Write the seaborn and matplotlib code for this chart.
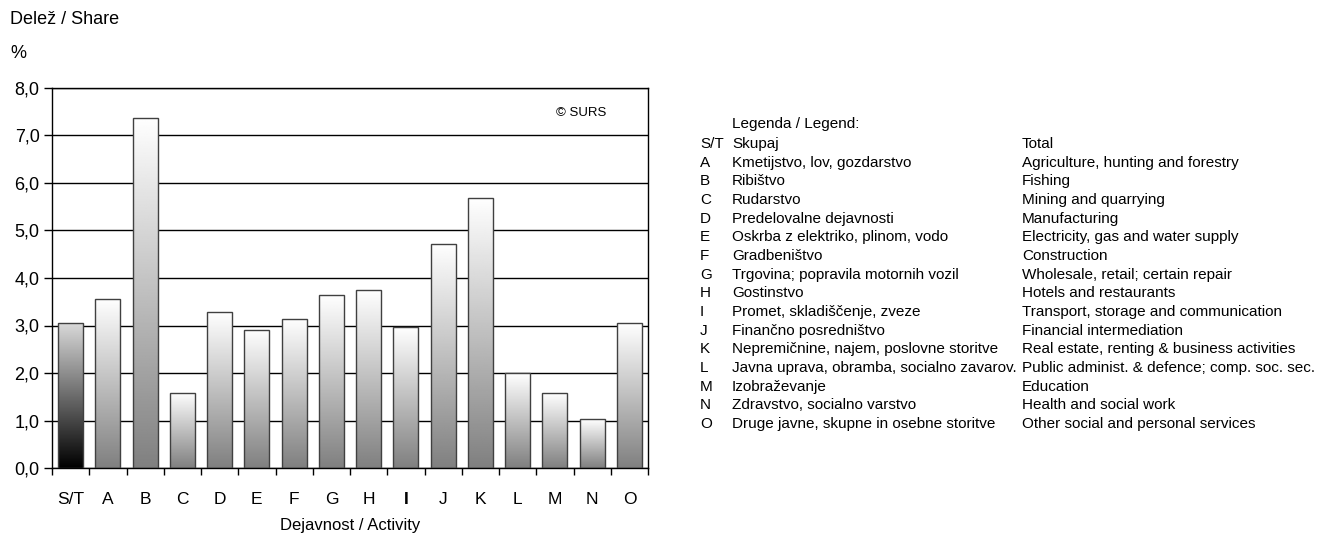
import matplotlib
matplotlib.use('Agg')
import matplotlib.pyplot as plt
import seaborn as sns
import numpy as np
from matplotlib.ticker import FixedLocator, FuncFormatter

# Data
codes = ['S/T', 'A', 'B', 'C', 'D', 'E', 'F', 'G', 'H', 'I', 'J', 'K', 'L', 'M', 'N', 'O']
share = [3.05, 3.56, 7.37, 1.58, 3.28, 2.91, 3.14, 3.64, 3.75, 2.96, 4.72, 5.68, 1.99, 1.57, 1.03, 3.05]

names_sl = ['Skupaj', 'Kmetijstvo, lov, gozdarstvo', 'Ribištvo', 'Rudarstvo',
            'Predelovalne dejavnosti', 'Oskrba z elektriko, plinom, vodo', 'Gradbeništvo',
            'Trgovina; popravila motornih vozil', 'Gostinstvo', 'Promet, skladiščenje, zveze',
            'Finančno posredništvo', 'Nepremičnine, najem, poslovne storitve',
            'Javna uprava, obramba, socialno zavarov.', 'Izobraževanje',
            'Zdravstvo, socialno varstvo', 'Druge javne, skupne in osebne storitve']
names_en = ['Total', 'Agriculture, hunting and forestry', 'Fishing', 'Mining and quarrying',
            'Manufacturing', 'Electricity, gas and water supply', 'Construction',
            'Wholesale, retail; certain repair', 'Hotels and restaurants',
            'Transport, storage and communication', 'Financial intermediation',
            'Real estate, renting & business activities',
            'Public administ. & defence; comp. soc. sec.', 'Education',
            'Health and social work', 'Other social and personal services']

sns.set_style('white')
plt.rcParams['font.family'] = ['Liberation Sans', 'DejaVu Sans']
plt.rcParams['text.color'] = 'black'
plt.rcParams['axes.labelcolor'] = 'black'
plt.rcParams['xtick.color'] = 'black'
plt.rcParams['ytick.color'] = 'black'

fig = plt.figure(figsize=(13.22, 5.36), dpi=100)
ax = fig.add_axes([52 / 1322, 1 - 468 / 536, 596 / 1322, 380 / 536])

sns.barplot(x=codes, y=share, color='white', edgecolor='#404040', linewidth=1,
            width=0.67, ax=ax, zorder=2)

# Vertical gradient inside each bar
for i, patch in enumerate(ax.patches):
    x0, y0 = patch.get_x(), patch.get_y()
    w, h = patch.get_width(), patch.get_height()
    if i == 0:
        grad = np.linspace(0.85, 0.0, 256).reshape(-1, 1)
    else:
        grad = np.linspace(1.0, 0.5, 256).reshape(-1, 1)
    im = ax.imshow(grad, cmap='gray', vmin=0, vmax=1, aspect='auto',
                   extent=[x0, x0 + w, y0, y0 + h], origin='upper', zorder=2.5)
    im.set_clip_path(patch)
    patch.set_zorder(3)
    patch.set_facecolor('none')

ax.set_xlim(-0.5, len(codes) - 0.5)
ax.set_ylim(0, 8)
ax.set_yticks(np.arange(0, 8.1, 1))
ax.yaxis.set_major_formatter(FuncFormatter(lambda v, p: f'{v:.1f}'.replace('.', ',')))
ax.grid(axis='y', color='black', linewidth=1)
ax.set_axisbelow(True)
for s in ax.spines.values():
    s.set_color('black')
    s.set_linewidth(1)

ax.xaxis.set_minor_locator(FixedLocator(np.arange(-0.5, len(codes), 1)))
ax.tick_params(axis='x', which='major', length=0, pad=17, labelsize=12.5)
ax.tick_params(axis='x', which='minor', length=5, width=1, color='black', direction='out', bottom=True)
ax.tick_params(axis='y', length=6, width=1, color='black', direction='out', left=True, labelsize=13, pad=3)
for lbl in ax.get_xticklabels():
    if lbl.get_text() == 'I':
        lbl.set_fontweight('bold')

ax.set_xlabel('Dejavnost / Activity', fontsize=12, labelpad=8)
ax.set_ylabel('')

ax.text((606 - 52) / 596, 0.935, '© SURS', transform=ax.transAxes, ha='right', va='center', fontsize=9.5)

fig.text(10 / 1322, 1 - 20 / 536, 'Delež / Share', ha='left', va='center', fontsize=13)
fig.text(10 / 1322, 1 - 53 / 536, '%', ha='left', va='center', fontsize=13)

# Legend as text block
fig.text(732 / 1322, 1 - 124 / 536, 'Legenda / Legend:', ha='left', va='center', fontsize=11)
y_start, step = 144, 18.67
for k, (c, sl, en) in enumerate(zip(codes, names_sl, names_en)):
    yy = 1 - (y_start + k * step) / 536
    fig.text(700 / 1322, yy, c, ha='left', va='center', fontsize=11)
    fig.text(732 / 1322, yy, sl, ha='left', va='center', fontsize=11)
    fig.text(1022 / 1322, yy, en, ha='left', va='center', fontsize=11)

plt.savefig('out.png', dpi=100)
